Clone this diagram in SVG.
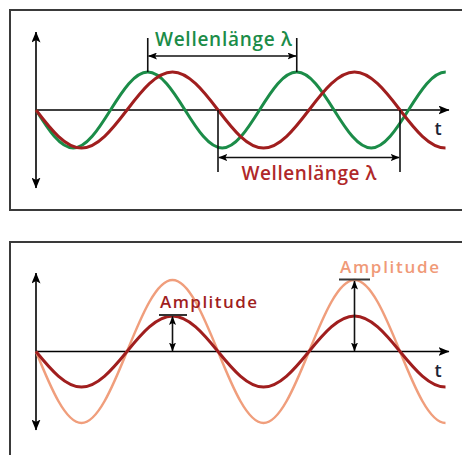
<svg xmlns="http://www.w3.org/2000/svg" width="462" height="455" viewBox="0 0 462 455">
<style>
.frame{fill:#fff;stroke:#3a3a3a;stroke-width:2}
.axis{fill:none;stroke:#000;stroke-width:1.6}
.tick{fill:none;stroke:#111;stroke-width:1.6}
.green{fill:none;stroke:#1b8c48;stroke-width:3}
.red{fill:none;stroke:#a01e1e;stroke-width:3}
.salmon{fill:none;stroke:#f09e7c;stroke-width:2.5}
.lbl{font-family:"Open Sans","DejaVu Sans",sans-serif;font-weight:600}
</style>
<defs>
<marker id="ax" viewBox="0 0 11 9" refX="10.5" refY="4.5" markerWidth="11" markerHeight="9" markerUnits="userSpaceOnUse" orient="auto-start-reverse">
<path d="M0,0 L11,4.5 L0,9 L2.5,4.5 z" fill="#000"/>
</marker>
<marker id="dm" viewBox="0 0 9 7" refX="8.5" refY="3.5" markerWidth="9" markerHeight="7" markerUnits="userSpaceOnUse" orient="auto-start-reverse">
<path d="M0,0 L9,3.5 L0,7 L2,3.5 z" fill="#000"/>
</marker>
</defs>

<g id="panel-top">
<rect class="frame" x="10" y="10" width="470" height="200"/>
</g>
<g id="panel-bottom">
<rect class="frame" x="10" y="242" width="470" height="230"/>
</g>

<g id="connectors">
<line class="axis" x1="36" y1="188" x2="36" y2="32" marker-start="url(#ax)" marker-end="url(#ax)"/>
<line class="axis" x1="36" y1="110" x2="449" y2="110" marker-end="url(#ax)"/>
<line class="axis" x1="36" y1="430" x2="36" y2="273" marker-start="url(#ax)" marker-end="url(#ax)"/>
<line class="axis" x1="36" y1="351.5" x2="449" y2="351.5" marker-end="url(#ax)"/>
</g>

<g id="wave-green">
<path class="green" d="M36,110 C48.16,129.49 60.2,148 73.25,148 C86.3,148 98.34,129.49 110.5,110 C122.66,90.51 134.7,72 147.75,72 C160.8,72 172.84,90.51 185,110 C197.16,129.49 209.2,148 222.25,148 C235.3,148 247.34,129.49 259.5,110 C271.66,90.51 283.7,72 296.75,72 C309.8,72 321.84,90.51 334,110 C346.16,129.49 358.2,148 371.25,148 C384.3,148 396.34,129.49 408.5,110 C420.66,90.51 432.7,72 445.75,72"/>
</g>
<g id="wave-red-top">
<path class="red" d="M36,110 C50.86,129.49 65.56,148 81.5,148 C97.44,148 112.14,129.49 127,110 C141.86,90.51 156.56,72 172.5,72 C188.44,72 203.14,90.51 218,110 C232.86,129.49 247.56,148 263.5,148 C279.44,148 294.14,129.49 309,110 C323.86,90.51 338.56,72 354.5,72 C370.44,72 385.14,90.51 400,110 C414.86,129.49 429.56,148 445.5,148"/>
</g>

<g id="wave-salmon">
<path class="salmon" d="M36,351.5 C50.86,388.17 65.56,423 81.5,423 C97.44,423 112.14,388.17 127,351.5 C141.86,314.83 156.56,280 172.5,280 C188.44,280 203.14,314.83 218,351.5 C232.86,388.17 247.56,423 263.5,423 C279.44,423 294.14,388.17 309,351.5 C323.86,314.83 338.56,280 354.5,280 C370.44,280 385.14,314.83 400,351.5 C414.86,388.17 429.56,423 445.5,423"/>
</g>
<g id="wave-red-bottom">
<path class="red" d="M36,351.5 C50.86,369.7 65.56,387 81.5,387 C97.44,387 112.14,369.7 127,351.5 C141.86,333.3 156.56,316 172.5,316 C188.44,316 203.14,333.3 218,351.5 C232.86,369.7 247.56,387 263.5,387 C279.44,387 294.14,369.7 309,351.5 C323.86,333.3 338.56,316 354.5,316 C370.44,316 385.14,333.3 400,351.5 C414.86,369.7 429.56,387 445.5,387"/>
</g>

<g id="wavelength-green">
<line class="tick" x1="147.75" y1="38" x2="147.75" y2="72"/>
<line class="tick" x1="296.75" y1="38" x2="296.75" y2="72"/>
<line class="tick" x1="148.5" y1="56" x2="296" y2="56" marker-start="url(#dm)" marker-end="url(#dm)"/>
<text class="lbl" x="155" y="46" font-size="19" fill="#1b8c48" textLength="137">Wellenlänge λ</text>
</g>

<g id="wavelength-red">
<line class="tick" x1="218" y1="110" x2="218" y2="172"/>
<line class="tick" x1="400" y1="110" x2="400" y2="172"/>
<line class="tick" x1="218.8" y1="157.5" x2="399.2" y2="157.5" marker-start="url(#dm)" marker-end="url(#dm)"/>
<text class="lbl" x="241.5" y="180" font-size="19" fill="#b0282a" textLength="135">Wellenlänge λ</text>
</g>

<g id="amplitude-red">
<line x1="159" y1="315" x2="187" y2="315" stroke="#333" stroke-width="2"/>
<line class="tick" x1="172.5" y1="316.5" x2="172.5" y2="351" marker-start="url(#dm)" marker-end="url(#dm)"/>
<text class="lbl" x="160" y="307.5" font-size="17" fill="#a01e1e" textLength="97">Amplitude</text>
</g>

<g id="amplitude-salmon">
<line x1="339" y1="279.5" x2="370" y2="279.5" stroke="#333" stroke-width="2"/>
<line class="tick" x1="354.5" y1="281" x2="354.5" y2="351" marker-start="url(#dm)" marker-end="url(#dm)"/>
<text class="lbl" x="340" y="272.5" font-size="17" fill="#f09a78" textLength="99">Amplitude</text>
</g>

<g id="t-labels">
<text class="lbl" x="434.5" y="135" font-size="18" fill="#1c2436">t</text>
<text class="lbl" x="434.5" y="377" font-size="18" fill="#1c2436">t</text>
</g>
</svg>
